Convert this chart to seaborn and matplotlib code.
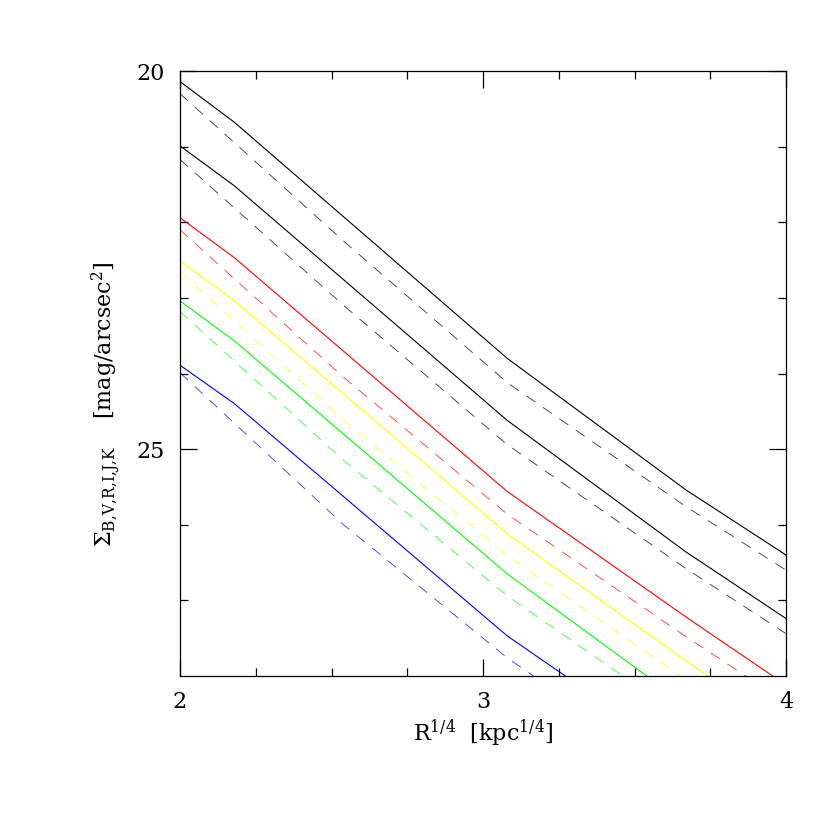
import matplotlib
matplotlib.use("Agg")
import matplotlib.pyplot as plt
import seaborn as sns
import pandas as pd

# ---- data ----
x_solid = [2.0, 2.18, 3.08, 3.67, 4.0]
x_dash = [2.0, 2.54, 3.08, 3.67, 4.0]

black1_solid = [20.14, 20.68, 23.80, 25.54, 26.40]
black2_solid = [20.99, 21.52, 24.62, 26.36, 27.24]
red_solid = [21.94, 22.47, 25.56, 27.22, 28.12]
yellow_solid = [22.51, 23.04, 26.12, 27.80, 28.70]
green_solid = [23.04, 23.57, 26.65, 28.38, 29.28]
blue_solid = [23.89, 24.40, 27.47, 29.10, 30.00]

black1_dash = [20.30, 22.25, 24.12, 25.76, 26.60]
black2_dash = [21.17, 23.10, 24.94, 26.58, 27.44]
red_dash = [22.10, 24.05, 25.86, 27.48, 28.35]
yellow_dash = [22.65, 24.62, 26.41, 28.05, 28.95]
green_dash = [23.18, 25.15, 26.94, 28.58, 29.45]
blue_dash = [23.99, 26.00, 27.76, 29.40, 30.30]

series_names = ["K1", "K2", "R", "Y", "G", "B"]
series_colors = ["#000000", "#000000", "#ff0000", "#ffff00", "#00ff00", "#0000ff"]
solid_vals = [black1_solid, black2_solid, red_solid, yellow_solid, green_solid, blue_solid]
dash_vals = [black1_dash, black2_dash, red_dash, yellow_dash, green_dash, blue_dash]

x_ticks = [2, 3, 4]
y_ticks = [20, 25]

# ---- style ----
sns.set_theme(style="white")
plt.rcParams["font.family"] = ["DejaVu Serif"]
plt.rcParams["mathtext.fontset"] = "dejavuserif"
plt.rcParams["text.color"] = "black"
plt.rcParams["xtick.color"] = "black"
plt.rcParams["ytick.color"] = "black"
plt.rcParams["xtick.labelcolor"] = "black"
plt.rcParams["ytick.labelcolor"] = "black"

fig = plt.figure(figsize=(8.3, 8.3), dpi=100)
ax = fig.add_axes([180 / 830, 1 - 676 / 830, (786 - 180) / 830, (676 - 71) / 830])

for name, col, ys in zip(series_names, series_colors, solid_vals):
    df = pd.DataFrame({"x": x_solid, "y": ys})
    sns.lineplot(data=df, x="x", y="y", color=col, lw=0.8, ax=ax,
                 estimator=None, sort=False)
for name, col, ys in zip(series_names, series_colors, dash_vals):
    df = pd.DataFrame({"x": x_dash, "y": ys})
    sns.lineplot(data=df, x="x", y="y", color=col, lw=0.6, ax=ax,
                 estimator=None, sort=False, linestyle=(0, (13, 11)), alpha=0.8)

ax.set_xlim(2, 4)
ax.set_ylim(28, 20)

ax.set_xticks(x_ticks)
ax.set_xticklabels([str(t) for t in x_ticks])
ax.set_xticks([2.25, 2.5, 2.75, 3.25, 3.5, 3.75], minor=True)
ax.set_yticks(y_ticks)
ax.set_yticklabels([str(t) for t in y_ticks])
ax.set_yticks([21, 22, 23, 24, 26, 27], minor=True)

ax.tick_params(which="both", direction="in", top=True, right=True,
               bottom=True, left=True, color="black", labelcolor="black", width=0.9)
ax.tick_params(which="major", length=12, labelsize=16, pad=11)
ax.tick_params(which="minor", length=6)

for sp in ax.spines.values():
    sp.set_color("black")
    sp.set_linewidth(0.9)

ax.set_xlabel("")
ax.set_ylabel("")
fig.text(483 / 830, 1 - 733 / 830, r"R$^{1/4}$  [kpc$^{1/4}$]",
         ha="center", va="center", fontsize=16, color="black")
fig.text(106 / 830, 1 - 404 / 830,
         r"$\Sigma_{\mathrm{B{,}V{,}R{,}I{,}J{,}K}}$    [mag/arcsec$^{2}$]",
         ha="center", va="center", rotation=90, fontsize=16, color="black")

fig.savefig("out.png", dpi=100, facecolor="white")
